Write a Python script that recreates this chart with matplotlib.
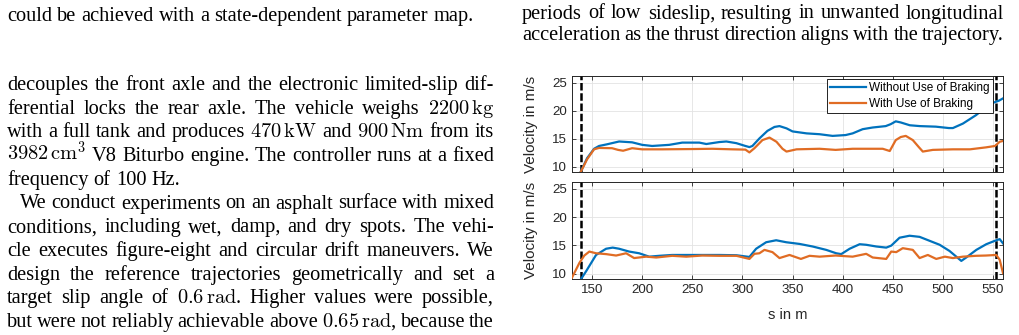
import matplotlib
matplotlib.use("Agg")
import matplotlib.pyplot as plt
from matplotlib.transforms import IdentityTransform

# ---------------- data ----------------
x_ticks = [150, 200, 250, 300, 350, 400, 450, 500, 550]
y_ticks = [10, 15, 20, 25]
marker_s = [139, 553]          # dashed section markers

legend_labels = ["Without Use of Braking", "With Use of Braking"]

top_blue_s = [138.5, 145, 152, 157, 165, 177, 190, 200, 210, 227, 240, 257, 264, 277, 284, 294, 303, 307, 310,
              317, 325, 332, 337, 344, 350, 364, 377, 390, 403, 410, 420, 430, 443, 448, 453, 458, 467, 477,
              493, 506, 510, 520, 533, 543, 550, 556, 560]
top_blue_v = [9.0, 11.5, 13.2, 13.7, 14.0, 14.5, 14.35, 13.9, 13.7, 13.9, 14.3, 14.3, 14.05, 14.4, 14.5, 14.2,
              13.7, 13.5, 13.7, 15.05, 16.4, 17.1, 17.25, 16.85, 16.3, 15.95, 15.8, 15.5, 15.65, 15.95, 16.7,
              17.0, 17.25, 17.6, 18.1, 17.9, 17.4, 17.25, 17.15, 16.9, 16.9, 17.7, 19.2, 20.6, 21.4, 21.8, 22.2]

top_orange_s = [138.5, 145, 152, 157, 170, 176, 181, 190, 200, 220, 250, 270, 290, 303, 307, 312, 320, 327,
                334, 340, 344, 354, 377, 393, 410, 440, 447, 453, 458, 463, 470, 476, 480, 490, 510, 527,
                543, 552, 556.7, 560]
top_orange_v = [9.0, 11.3, 13.1, 13.35, 13.3, 13.0, 12.85, 13.3, 13.1, 13.1, 13.15, 13.2, 13.1, 13.05, 12.55,
                13.3, 14.75, 15.2, 14.45, 13.2, 12.7, 13.1, 13.2, 13.0, 13.2, 13.2, 12.8, 14.75, 15.3, 15.5,
                14.75, 13.5, 12.7, 13.0, 13.1, 13.1, 13.45, 13.7, 14.45, 14.6]

bot_blue_s = [137.4, 144, 154, 164, 170.6, 177, 187, 197, 207, 217, 230, 244, 257, 277, 294, 307, 313.7, 323.7,
              333.7, 343.7, 357, 370, 383.6, 393.6, 398.6, 407, 417, 423.5, 433.5, 443.5, 448.5, 456.8, 466.8,
              476.8, 486.8, 496.8, 506.7, 513.4, 518.4, 523.3, 533.4, 543.3, 553.3, 556.7, 560]
bot_blue_v = [8.6, 10.4, 13.3, 14.4, 14.6, 14.4, 13.9, 13.6, 13.0, 13.15, 13.3, 13.3, 13.3, 13.3, 13.25, 12.95,
              14.4, 15.55, 15.9, 15.55, 15.25, 14.8, 14.2, 13.6, 13.45, 14.4, 15.2, 15.1, 14.8, 14.6, 14.95,
              16.35, 16.7, 16.5, 15.8, 15.1, 14.0, 13.0, 12.25, 12.85, 14.2, 15.2, 15.9, 16.1, 15.35]

bot_orange_s = [129, 137.4, 142.3, 147.3, 154, 164, 174, 184, 192, 204, 214, 230, 244, 260, 277, 294, 307, 312,
                317, 322, 330, 337, 347, 358.4, 367, 377, 393, 410, 423.5, 430, 443.5, 448.5, 453.5, 460, 470,
                476.8, 485, 493.4, 502, 510, 520, 533, 543, 553.3, 556.7, 560]
bot_orange_v = [8.95, 11.9, 13.2, 13.9, 13.6, 13.45, 13.2, 13.6, 12.75, 13.0, 12.85, 13.15, 13.0, 13.2, 13.15,
                13.15, 12.6, 13.5, 13.6, 14.2, 13.8, 12.75, 13.3, 12.6, 13.15, 13.0, 13.2, 13.0, 13.5, 12.85,
                12.6, 13.9, 13.8, 14.5, 14.2, 12.75, 13.3, 12.6, 13.0, 12.75, 13.0, 13.15, 13.2, 13.3, 12.45, 10.1]

# ---------------- page text ----------------
left_lines = [
    (21, "could be achieved with a state-dependent parameter map.", False, 0),
    (90, "decouples the front axle and the electronic limited-slip dif-", True, 0),
    (113.7, r"ferential locks the rear axle. The vehicle weighs $2200\,\mathrm{kg}$", True, 0),
    (137.4, r"with a full tank and produces $470\,\mathrm{kW}$ and $900\,\mathrm{Nm}$ from its", True, 0),
    (161.1, r"$3982\,\mathrm{cm}^3$ V8 Biturbo engine. The controller runs at a fixed", True, 0),
    (184.8, "frequency of 100 Hz.", False, 0),
    (208.5, "We conduct experiments on an asphalt surface with mixed", True, 13),
    (232.2, "conditions, including wet, damp, and dry spots. The vehi-", True, 0),
    (255.9, "cle executes figure-eight and circular drift maneuvers. We", True, 0),
    (279.6, "design the reference trajectories geometrically and set a", True, 0),
    (303.3, r"target slip angle of $0.6\,\mathrm{rad}$. Higher values were possible,", True, 0),
    (327.0, r"but were not reliably achievable above $0.65\,\mathrm{rad}$, because the", True, 0),
]
right_lines = [
    (18.5, "periods of low sideslip, resulting in unwanted longitudinal", True, 0),
    (40.0, "acceleration as the thrust direction aligns with the trajectory.", True, 0),
]

W, H = 1020, 335
plt.rcParams["mathtext.fontset"] = "cm"
fig = plt.figure(figsize=(W / 100, H / 100), dpi=100)
fig.patch.set_facecolor("white")
renderer = fig.canvas.get_renderer()

TEXT_KW = dict(family="Liberation Serif", fontsize=14.7, color="black",
               transform=IdentityTransform(), va="baseline", ha="left")


def measure(s):
    t = fig.text(0, 0, s, **TEXT_KW)
    w = t.get_window_extent(renderer).width
    t.remove()
    return w


space_w = measure("a a") - measure("aa")


def split_tokens(line):
    toks, cur, inmath = [], "", False
    for ch in line:
        if ch == "$":
            inmath = not inmath
            cur += ch
        elif ch == " " and not inmath:
            if cur:
                toks.append(cur)
            cur = ""
        else:
            cur += ch
    if cur:
        toks.append(cur)
    return toks


def draw_column(lines, x0, x1):
    for ytop, line, justify, indent in lines:
        toks = split_tokens(line)
        widths = [measure(t) for t in toks]
        start = x0 + indent
        if justify and len(toks) > 1:
            gap = (x1 - start - sum(widths)) / (len(toks) - 1)
        else:
            gap = space_w
        x = start
        for t, w in zip(toks, widths):
            fig.text(x, H - ytop, t, **TEXT_KW)
            x += w + gap


draw_column(left_lines, 7, 494)
draw_column(right_lines, 522, 1004)

# ---------------- chart ----------------
BLUE = "#0072BD"
ORANGE = "#E06C24"
AX_COL = "#262626"
SANS = "Liberation Sans"

axL, axR = 572 / W, 1003 / W
ax_top = fig.add_axes([axL, 1 - 172 / H, axR - axL, (172 - 76) / H])
ax_bot = fig.add_axes([axL, 1 - 279 / H, axR - axL, (279 - 182) / H])

panels = [
    (ax_top, top_blue_s, top_blue_v, top_orange_s, top_orange_v),
    (ax_bot, bot_blue_s, bot_blue_v, bot_orange_s, bot_orange_v),
]
for ax, bs, bv, os_, ov in panels:
    ax.set_xlim(130, 560)
    ax.set_ylim(9.05, 26.2)
    ax.set_xticks(x_ticks)
    ax.set_yticks(y_ticks)
    ax.grid(True, color="#e3e3e3", linewidth=0.6)
    ax.set_axisbelow(True)
    for m in marker_s:
        ax.axvline(m, color="black", linewidth=1.8, dashes=(3.0, 1.1), zorder=3)
    lb, = ax.plot(bs, bv, color=BLUE, linewidth=1.6, zorder=4)
    lo, = ax.plot(os_, ov, color=ORANGE, linewidth=1.6, zorder=4)
    ax.tick_params(direction="in", length=3, width=0.6, colors=AX_COL, labelsize=9.6,
                   top=True, right=True, pad=3.5)
    for lab in ax.get_xticklabels() + ax.get_yticklabels():
        lab.set_family(SANS)
    for sp in ax.spines.values():
        sp.set_color(AX_COL)
        sp.set_linewidth(0.7)
    ax.set_ylabel("Velocity in m/s", family=SANS, fontsize=11.0, color=AX_COL)
    ax.yaxis.set_label_coords(-0.079, 0.5)
    if ax is ax_top:
        ax.tick_params(labelbottom=False)
        leg = ax.legend([lb, lo], legend_labels, loc="upper right",
                        bbox_to_anchor=((993 - 572) / 431, (172 - 79) / 96),
                        borderaxespad=0, fancybox=False, framealpha=1, edgecolor="black",
                        prop={"family": SANS, "size": 8.5}, handlelength=3.0,
                        handletextpad=0.3, labelspacing=0.3, borderpad=0.28)
        leg.get_frame().set_linewidth(0.6)
        leg.set_zorder(6)

ax_bot.set_xlabel("s in m", family=SANS, fontsize=10.6, color=AX_COL)
ax_bot.xaxis.set_label_coords(0.5, -0.371)
ax_bot.xaxis.label.set_va("center")

fig.savefig("out.png", dpi=100, facecolor="white")
